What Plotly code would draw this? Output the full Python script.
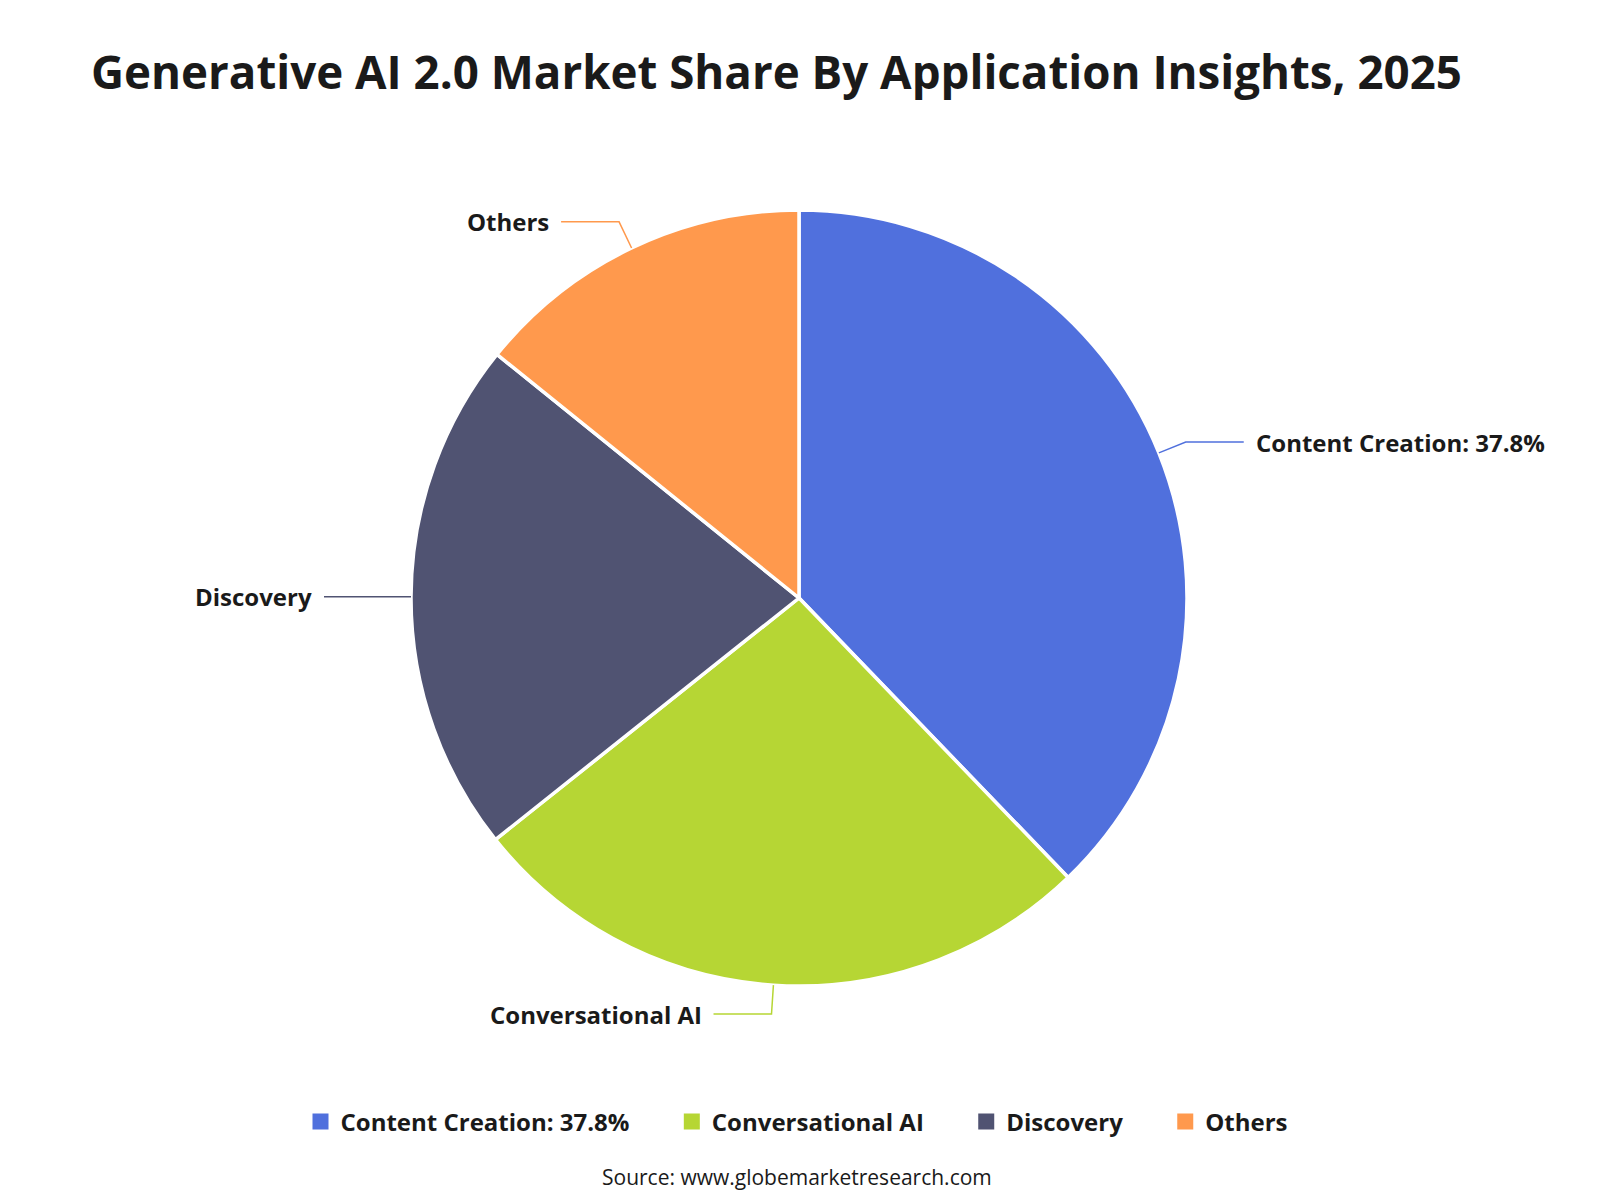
import math
import plotly.graph_objects as go

# ---- data ----
categories = ["Content Creation: 37.8%", "Conversational AI", "Discovery", "Others"]
shares = [37.8, 26.5, 21.5, 14.2]
colors = ["#5070dd", "#b6d634", "#505372", "#ff994d"]
title_text = "Generative AI 2.0 Market Share By Application Insights, 2025"
source_text = "Source: www.globemarketresearch.com"

W, H = 1600, 1200
CX, CY, R = 799, 598, 388
FONT = "Open Sans"

def px2paper(x, y):
    return x / W, 1 - y / H

fig = go.Figure()
fig.add_trace(go.Pie(
    labels=categories,
    values=shares,
    sort=False,
    direction="clockwise",
    rotation=0,
    textinfo="none",
    hoverinfo="label+percent",
    showlegend=False,
    marker=dict(colors=colors, line=dict(color="white", width=3.5)),
    domain=dict(x=[(CX - R) / W, (CX + R) / W], y=[1 - (CY + R) / H, 1 - (CY - R) / H]),
))

# legend swatches (no data points, legend only)
for i, (name, c) in enumerate(zip(categories, colors)):
    pad = "&nbsp;" * 6 if i < len(categories) - 1 else ""
    fig.add_trace(go.Scatter(
        x=[None], y=[None], mode="markers", name=name + pad,
        marker=dict(symbol="square", size=19, color=c),
        hoverinfo="skip",
    ))

# leader lines + labels, derived from the slice angles
shapes = []
annotations = []
total = sum(shares)
cum = 0.0
LEN1, LEN2, GAP = 29, 58, 10
for name, v, c in zip(categories, shares, colors):
    mid = (cum + v / 2) / total * 2 * math.pi
    cum += v
    s, co = math.sin(mid), math.cos(mid)
    x0, y0 = CX + R * s, CY - R * co
    x1, y1 = CX + (R + LEN1) * s, CY - (R + LEN1) * co
    side = 1 if s > 1e-6 else -1
    x2, y2 = x1 + side * LEN2, y1
    pts = [px2paper(*p) for p in [(x0, y0), (x1, y1), (x2, y2)]]
    path = "M {} {} L {} {} L {} {}".format(pts[0][0], pts[0][1], pts[1][0], pts[1][1], pts[2][0], pts[2][1])
    shapes.append(dict(type="path", path=path, xref="paper", yref="paper",
                       line=dict(color=c, width=1.5)))
    tx, ty = px2paper(x2 + side * GAP, y2)
    annotations.append(dict(
        x=tx, y=ty, xref="paper", yref="paper", text="<b>%s</b>" % name,
        showarrow=False, xanchor="left" if side > 0 else "right", yanchor="middle",
        font=dict(family=FONT, size=24, color="#1a1a1a"),
    ))

# title & source
tx, ty = px2paper(89, 71)
annotations.append(dict(x=tx, y=ty, xref="paper", yref="paper", text="<b>%s</b>" % title_text,
                        showarrow=False, xanchor="left", yanchor="middle",
                        font=dict(family=FONT, size=45.7, color="#1a1a1a")))
sx, sy = px2paper(W / 2 - 3, 1177)
annotations.append(dict(x=sx, y=sy, xref="paper", yref="paper", text=source_text,
                        showarrow=False, xanchor="center", yanchor="middle",
                        font=dict(family=FONT, size=21, color="#1a1a1a")))

lx, ly = px2paper(W / 2 - 3, 1122)
fig.update_layout(
    width=W, height=H,
    margin=dict(l=0, r=0, t=0, b=0),
    paper_bgcolor="white", plot_bgcolor="white",
    xaxis=dict(visible=False), yaxis=dict(visible=False),
    shapes=shapes, annotations=annotations,
    showlegend=True,
    legend=dict(orientation="h", x=lx, y=ly, xanchor="center", yanchor="middle",
                font=dict(family=FONT, size=24, color="#1a1a1a", weight="bold"),
                itemsizing="trace", tracegroupgap=0),
)

fig.write_html("out.html")
